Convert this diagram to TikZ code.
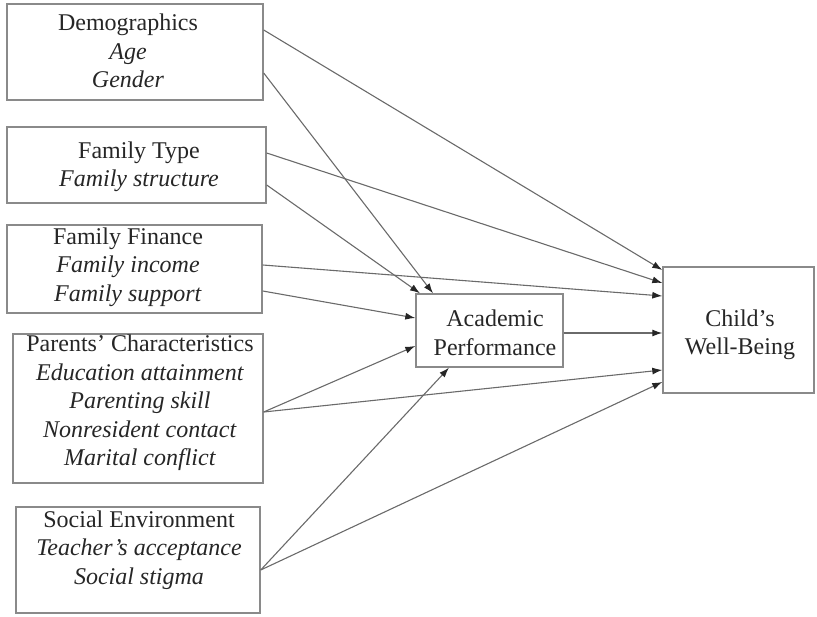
\documentclass[tikz,border=0pt]{standalone}
\usepackage{fontspec}
\setmainfont{Liberation Serif}
\usetikzlibrary{arrows.meta}
\definecolor{linegray}{HTML}{6A6A6A}
\definecolor{boxgray}{HTML}{8A8A8A}
\definecolor{txt}{HTML}{262626}
\begin{document}
\begin{tikzpicture}[x=1pt,y=-1pt,
  box/.style={draw=boxgray, line width=1.4pt, inner sep=0pt, rectangle},
  lbl/.style={text=txt, align=center, inner sep=0pt, font=\fontsize{24}{28.5}\selectfont},
  conn/.style={draw=linegray, line width=1.1pt, -{Latex[length=10pt,width=7pt,color=black!85]}}]
\useasboundingbox (0,0) rectangle (817,617);
% boxes
\node[box, minimum width=256pt, minimum height=96pt] (demo) at (135,52) {};
\node[box, minimum width=259pt, minimum height=76pt] (ftype) at (136.5,165) {};
\node[box, minimum width=255pt, minimum height=88pt] (ffin) at (134.5,269) {};
\node[box, minimum width=250pt, minimum height=149pt] (par) at (138,408.5) {};
\node[box, minimum width=244pt, minimum height=106pt] (soc) at (138,560) {};
\node[box, minimum width=147pt, minimum height=73pt] (acad) at (489.5,330.5) {};
\node[box, minimum width=151pt, minimum height=126pt] (child) at (738.5,330) {};
% texts
\node[lbl] (demo-t) at (128,51) {Demographics\\\textit{Age}\\\textit{Gender}};
\node[lbl] (ftype-t) at (139,167) {Family Type\\\textit{Family structure}};
\node[lbl] (ffin-t) at (128,267) {Family Finance\\\textit{Family income}\\\textit{Family support}};
\node[lbl] (par-t) at (140,403) {Parents' Characteristics\\\textit{Education attainment}\\\textit{Parenting skill}\\\textit{Nonresident contact}\\\textit{Marital conflict}};
\node[lbl] (soc-t) at (139,550) {Social Environment\\\textit{Teacher's acceptance}\\\textit{Social stigma}};
\node[lbl] (acad-t) at (495,333) {Academic\\Performance};
\node[lbl] (child-t) at (740,335) {Child's\\Well-Being};
% connectors
\draw[conn] (demo.east |- 0,30) -- (child.west |- 0,270);
\draw[conn] (demo.east |- 0,73) -- (acad.north -| 433,0);
\draw[conn] (ftype.east |- 0,153) -- (child.west |- 0,283);
\draw[conn] (ftype.east |- 0,185) -- (acad.north -| 420,0);
\draw[conn] (ffin.east |- 0,265) -- (child.west |- 0,296);
\draw[conn] (ffin.east |- 0,291) -- (acad.west |- 0,318);
\draw[conn] (acad.east |- 0,333) -- (child.west |- 0,333);
\draw[conn] (par.east |- 0,412) -- (acad.west |- 0,346);
\draw[conn] (par.east |- 0,412) -- (child.west |- 0,370);
\draw[conn] (soc.east |- 0,570) -- (acad.south -| 449,0);
\draw[conn] (soc.east |- 0,570) -- (child.west |- 0,382);
\end{tikzpicture}
\end{document}
